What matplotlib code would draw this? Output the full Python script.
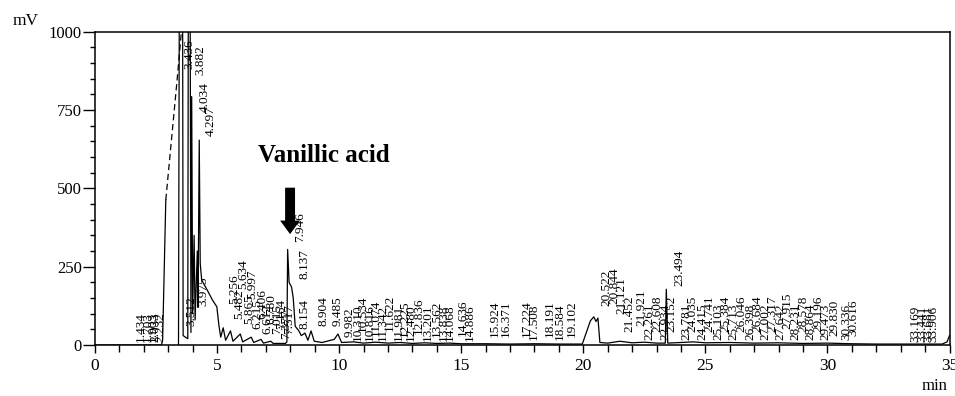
import matplotlib
matplotlib.use('Agg')
import matplotlib.pyplot as plt
from matplotlib.ticker import MultipleLocator
from matplotlib.patches import FancyArrowPatch

plt.rcParams['font.family'] = ['Liberation Serif', 'DejaVu Serif']

# ---- chromatogram trace (time in min, signal in mV) ----
rise_time = [0.0, 2.72, 2.77, 2.90]
rise_mv = [0, 0, 16, 463]
dash_time = [2.90, 3.35, 3.55]
dash_mv = [463, 835, 1010]
trace_time = [3.42, 3.45, 3.59, 3.61, 3.80, 3.82, 3.90, 3.93, 3.96, 4.00, 4.06, 4.10,
              4.19, 4.22, 4.27, 4.31, 4.37, 4.60, 4.80, 4.99, 5.08, 5.15, 5.25, 5.35,
              5.55, 5.65, 5.95, 6.05, 6.40, 6.50, 6.80, 6.90, 7.20, 7.30, 7.80, 7.86,
              7.89, 7.95, 8.05, 8.12, 8.20, 8.35, 8.45, 8.60, 8.72, 8.85, 8.98, 9.30,
              9.80, 9.95, 10.10, 10.6, 11.0, 11.5, 12.0, 12.5, 13.0, 13.5, 14.0, 14.5,
              15.0, 16.0, 17.0, 18.0, 19.0, 19.96, 20.29, 20.43, 20.52, 20.60, 20.68,
              21.0, 21.5, 22.0, 22.5, 23.0, 23.36, 23.40, 23.46, 24.0, 24.5, 25.0,
              26.0, 27.0, 28.0, 29.0, 30.0, 31.0, 32.0, 33.0, 34.0, 34.7, 34.9, 35.0]
trace_mv = [0, 1010, 1010, 30, 20, 1010, 1010, 40, 793, 100, 350, 80,
            300, 120, 654, 260, 207, 175, 145, 122, 60, 25, 55, 15,
            45, 12, 35, 10, 25, 8, 18, 6, 12, 5, 5, 10,
            305, 200, 185, 150, 60, 45, 30, 38, 15, 45, 12, 8,
            18, 35, 8, 10, 6, 9, 6, 8, 5, 7, 5, 6,
            4, 4, 3, 4, 3, 3, 77, 90, 75, 86, 8,
            6, 12, 7, 9, 6, 6, 178, 6, 8, 10, 7,
            8, 6, 7, 5, 6, 4, 3, 3, 3, 3, 10, 30]

# ---- retention-time labels and the height (mV) where each label starts ----
label_text = ["1.434", "1.703", "1.903", "2.033", "2.232",
              "3.436", "3.882", "4.034", "4.297", "3.512", "3.975",
              "5.256", "5.482", "5.634", "5.865", "5.997", "6.215", "6.406", "6.612",
              "6.780", "7.015", "7.164", "7.377", "7.517",
              "7.946", "8.137", "8.154", "8.904", "9.485",
              "9.982", "10.310", "10.534", "10.816", "11.074", "11.342", "11.622",
              "11.981", "12.225", "12.480", "12.836", "13.201", "13.562", "13.838",
              "14.068", "14.636", "14.886",
              "15.924", "16.371", "17.224", "17.508", "18.191", "18.584", "19.102",
              "20.522", "20.844", "21.121", "21.452", "21.921", "22.261", "22.608",
              "22.934", "23.152", "23.494", "23.781", "24.035", "24.415", "24.741",
              "25.103", "25.384", "25.713", "26.046", "26.398", "26.684", "27.002",
              "27.317", "27.642", "27.915", "28.231", "28.578", "28.864", "29.196",
              "29.473", "29.830", "30.336", "30.616",
              "33.169", "33.441", "33.681", "33.906"]
label_base = [10, 10, 10, 10, 10,
              880, 863, 745, 666, 60, 124,
              130, 83, 178, 67, 146, 51, 83, 35,
              67, 35, 51, 19, 35,
              328, 210, 50, 60, 60,
              25, 12, 40, 12, 30, 12, 45,
              12, 25, 12, 35, 12, 25, 12,
              12, 30, 12,
              25, 25, 25, 15, 25, 15, 25,
              124, 130, 100, 40, 60, 15, 40,
              15, 40, 188, 15, 40, 15, 40,
              15, 40, 15, 40, 15, 40, 15,
              40, 15, 50, 15, 40, 15, 40,
              15, 30, 15, 30,
              10, 10, 10, 10]

x_ticks = [0, 5, 10, 15, 20, 25, 30, 35]
y_ticks = [0, 250, 500, 750, 1000]

fig = plt.figure(figsize=(9.55, 3.96), dpi=100)
ax = fig.add_axes([95 / 955, 1 - 345 / 396, 854.5 / 955, 313.3 / 396])

ax.plot(rise_time, rise_mv, color='black', lw=0.9)
ax.plot(dash_time, dash_mv, color='black', lw=0.9, ls=(0, (5, 3)))
ax.plot(trace_time, trace_mv, color='black', lw=0.9)

for txt, base in zip(label_text, label_base):
    ax.text(float(txt) + 0.2, base, txt, rotation=90, ha='left', va='bottom',
            fontsize=9.5, color='black', clip_on=True)

ax.set_xlim(0, 35)
ax.set_ylim(0, 1000)
ax.set_xticks(x_ticks)
ax.set_yticks(y_ticks)
ax.set_xticklabels([str(v) for v in x_ticks], fontsize=12.5)
ax.set_yticklabels([str(v) for v in y_ticks], fontsize=12)
ax.xaxis.set_minor_locator(MultipleLocator(1))
ax.yaxis.set_minor_locator(MultipleLocator(50))
ax.tick_params(axis='x', which='major', direction='out', length=5.5, width=1, pad=4)
ax.tick_params(axis='x', which='minor', direction='out', length=5, width=1)
ax.tick_params(axis='y', which='major', direction='out', length=8.5, width=1, pad=1)
ax.tick_params(axis='y', which='minor', direction='out', length=3.6, width=1)
for s in ax.spines.values():
    s.set_linewidth(1.1)
    s.set_color('black')

# annotation
ax.text(6.68, 606, 'Vanillic acid', fontsize=18, fontweight='bold', va='center', ha='left')
arrow = FancyArrowPatch((7.99, 511), (7.99, 345),
                        arrowstyle='simple,head_width=1.1,head_length=0.75,tail_width=0.55',
                        mutation_scale=13, color='black', lw=0)
ax.add_patch(arrow)

fig.text(13 / 955, 1 - 21 / 396, 'mV', fontsize=12.5, ha='left', va='center')
fig.text(922 / 955, 1 - 386 / 396, 'min', fontsize=12, ha='left', va='center')

fig.savefig('out.png', dpi=100)
